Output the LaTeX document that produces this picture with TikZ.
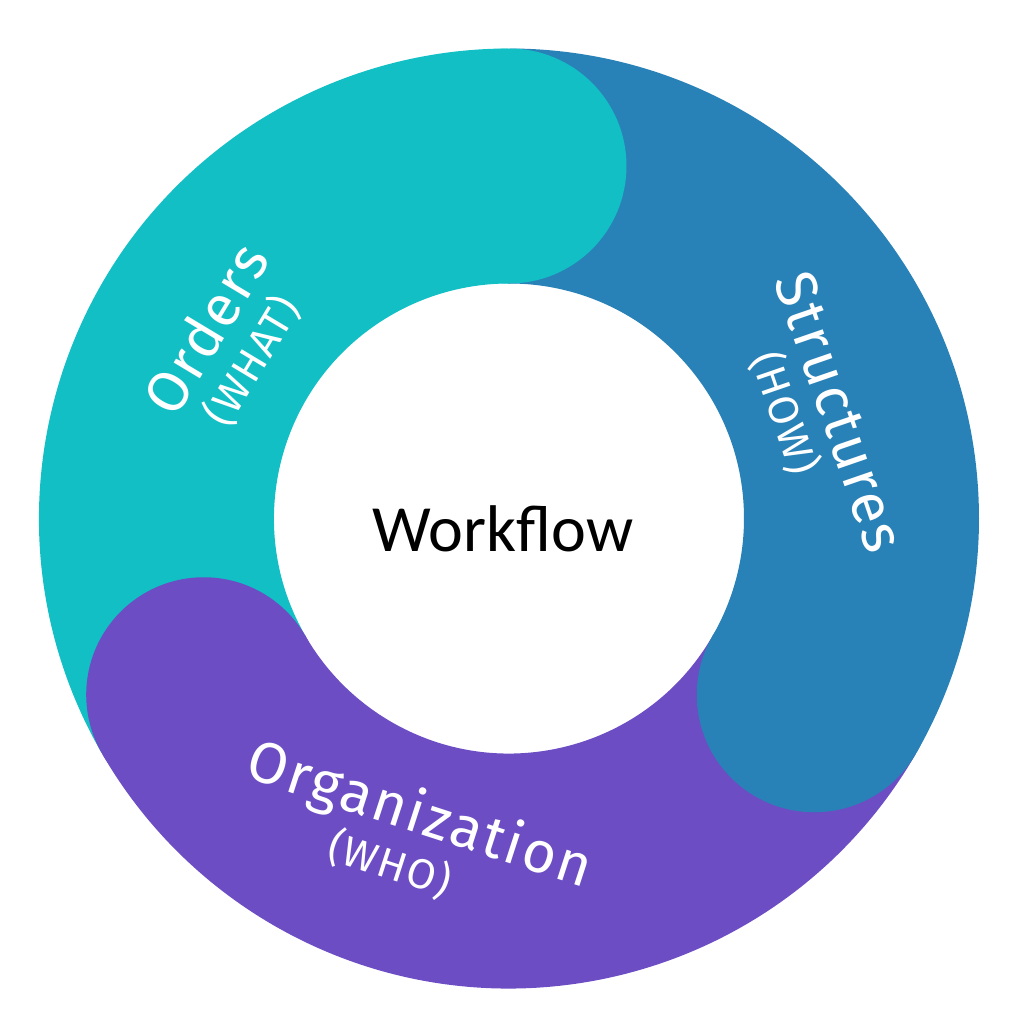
\documentclass[tikz,border=0pt]{standalone}
\usepackage{fontspec}
\setmainfont{Carlito}
\newfontfamily\segfont[LetterSpace=4]{Fira Sans}
\definecolor{cteal}{RGB}{17,191,197}
\definecolor{cblue}{RGB}{41,130,183}
\definecolor{cpurple}{RGB}{108,77,196}
\begin{document}
\begin{tikzpicture}[x=0.5pt,y=0.5pt,
  band/.style={line width=117.5pt, line cap=butt},
  title/.style={text=white, font=\segfont\fontsize{29}{32}\selectfont, inner sep=0pt, text depth=0pt},
  sub/.style={text=white, font=\segfont\fontsize{21}{24}\selectfont, inner sep=0pt}]
\useasboundingbox (-509,-505.5) rectangle (515,518.5);
% ring bands
\draw[band, cteal] (210:352.5) arc[start angle=210, end angle=90, radius=176.25pt];
\draw[band, cblue] (90:352.5) arc[start angle=90, end angle=-30, radius=176.25pt];
\draw[band, cpurple] (-30:352.5) arc[start angle=-30, end angle=-150, radius=176.25pt];
% rounded heads
\fill[cteal] (90:352.5) circle[radius=58.75pt];
\fill[cblue] (-30:352.5) circle[radius=58.75pt];
\fill[cpurple] (210:352.5) circle[radius=58.75pt];
% labels
\node[title, rotate=59] (orders) at (-304,190) {Orders};
\node[sub, rotate=59] (what) at (-257,157.5) {(WHAT)};
\node[title, rotate=-71] (struct) at (331.5,106.5) {Structures};
\node[sub, rotate=-71] (how) at (276,105.5) {(HOW)};
\node[title, rotate=-18] (org) at (-88,-292.5) {Organization};
\node[sub, rotate=-18] (who) at (-119,-345.5) {(WHO)};
\node[font=\fontsize{33}{36}\selectfont, inner sep=0pt] (wf) at (-6,-10) {Workflow};
\end{tikzpicture}
\end{document}
